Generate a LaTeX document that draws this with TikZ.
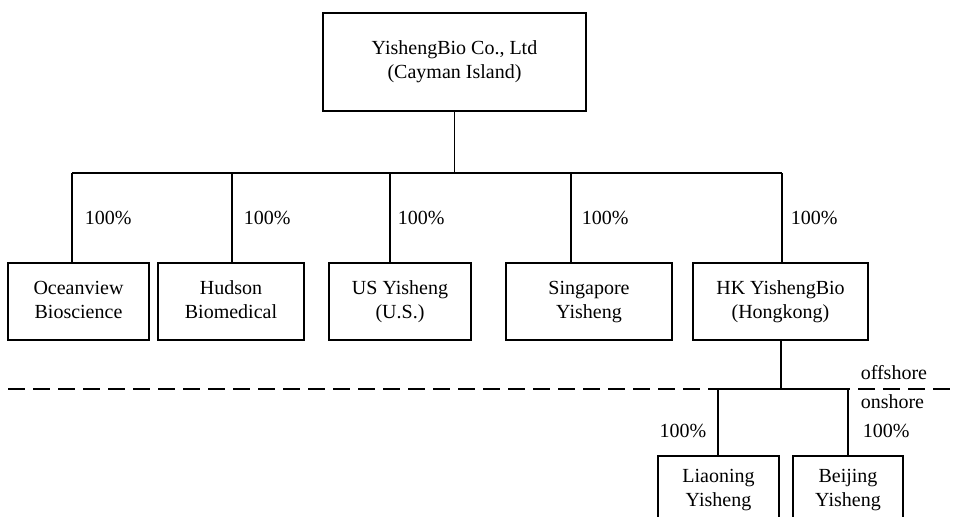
\documentclass[tikz,border=0pt]{standalone}
\usepackage{fontspec}
\setmainfont{Liberation Serif}
\begin{document}
\begin{tikzpicture}[x=1pt,y=-1pt,line width=1.5pt,
  font=\fontsize{20}{24}\selectfont,
  cobox/.style={draw,rectangle,inner sep=0pt,align=center},
  pct/.style={inner sep=0pt,anchor=west},
  dashline/.style={dash pattern=on 17pt off 8pt}]
\useasboundingbox (0,0) rectangle (957,516);
\clip (0,0) rectangle (957,516);
% top box
\node[cobox,minimum width=263pt,minimum height=98pt] (top) at (454.5,62) {\strut YishengBio Co., Ltd\\\strut(Cayman Island)};
% row boxes
\node[cobox,minimum width=141pt,minimum height=77pt] (ocean) at (78.5,301.5) {\strut Oceanview\\\strut Bioscience};
\node[cobox,minimum width=146pt,minimum height=77pt] (hudson) at (231,301.5) {\strut Hudson\\\strut Biomedical};
\node[cobox,minimum width=142pt,minimum height=77pt] (us) at (400,301.5) {\strut US Yisheng\\\strut(U.S.)};
\node[cobox,minimum width=166pt,minimum height=77pt] (sing) at (589,301.5) {\strut Singapore\\\strut Yisheng};
\node[cobox,minimum width=175pt,minimum height=77pt] (hk) at (780.5,301.5) {\strut HK YishengBio\\\strut(Hongkong)};
% onshore boxes
\node[cobox,minimum width=121pt,minimum height=67pt,anchor=north] (liao) at (718.5,455) {\strut Liaoning\\\strut Yisheng};
\node[cobox,minimum width=110pt,minimum height=67pt,anchor=north] (bj) at (848,455) {\strut Beijing\\\strut Yisheng};
% coordinates
\coordinate (hub) at (454.5,173);
\coordinate (cOcean) at (72,173);
\coordinate (cHud) at (232,173);
\coordinate (cUS) at (390,173);
\coordinate (cSing) at (571,173);
\coordinate (cHK) at (782,173);
\coordinate (hub2) at (781,389);
\coordinate (cLiao) at (718,389);
\coordinate (cBj) at (848,389);
\coordinate (dl) at (8,389);
\coordinate (dr) at (957,389);
% connectors
\draw (top.south) -- (hub);
\draw (cOcean) -- (cHK);
\draw (cOcean) -- (cOcean |- ocean.north);
\draw (cHud) -- (cHud |- hudson.north);
\draw (cUS) -- (cUS |- us.north);
\draw (cSing) -- (cSing |- sing.north);
\draw (cHK) -- (cHK |- hk.north);
\draw (hub2 |- hk.south) -- (hub2);
\draw (cLiao) -- (cBj);
\draw (cLiao) -- (cLiao |- liao.north);
\draw (cBj) -- (cBj |- bj.north);
\draw[dashline] (dl) -- (dr);
% labels
\node[pct] (p1) at (84,218) {100\%};
\node[pct] (p2) at (243,218) {100\%};
\node[pct] (p3) at (397,218) {100\%};
\node[pct] (p4) at (581,218) {100\%};
\node[pct] (p5) at (790,218) {100\%};
\node[pct,anchor=east] (p6) at (707,431) {100\%};
\node[pct] (p7) at (862,431) {100\%};
\node[pct] (off) at (860,373) {offshore};
\node[pct] (on) at (860,402) {onshore};
\end{tikzpicture}
\end{document}
